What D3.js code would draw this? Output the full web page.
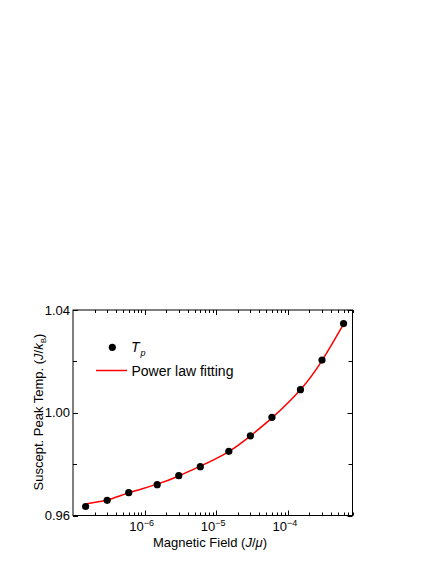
<!DOCTYPE html>
<html>
<head>
<meta charset="utf-8">
<script src="https://cdn.jsdelivr.net/npm/d3@7"></script>
<style>
html,body{margin:0;padding:0;background:#fff;}
svg{display:block;font-family:"Liberation Sans",Arial,sans-serif;}
</style>
</head>
<body>
<svg id="chart" width="436" height="564"></svg>
<script>
// Data
const fieldValues = [1.5e-7, 3e-7, 6e-7, 1.5e-6, 3e-6, 6e-6, 1.5e-5, 3e-5, 6e-5, 1.5e-4, 3e-4, 6e-4];
const peakTemps   = [0.9635, 0.9659, 0.9689, 0.9720, 0.9755, 0.9790, 0.9850, 0.9910, 0.9982, 1.0090, 1.0205, 1.0347];
const fitTemps    = [0.9645, 0.9660, 0.9688, 0.9722, 0.9754, 0.9792, 0.9849, 0.9910, 0.9980, 1.0090, 1.0203, 1.0345];
const xMajorTicks = [1e-6, 1e-5, 1e-4];
const xTickExponents = ["-6", "-5", "-4"];
const yMajorTicks = [0.96, 1.00, 1.04];
const yTickLabels = ["0.96", "1.00", "1.04"];
const yMinorTicks = [0.98, 1.02];
const xDomain = [1e-7, 8e-4];
const yDomain = [0.96, 1.04];

const svg = d3.select("#chart");
const L = 73, R = 352.5, T = 310, B = 515.5;

const x = d3.scaleLog().domain(xDomain).range([L, R]);
const y = d3.scaleLinear().domain(yDomain).range([B, T]);

// minor x ticks
const xMinor = [];
for (let e = -7; e <= -4; e++) {
  for (let m = 2; m <= 9; m++) {
    const v = m * Math.pow(10, e);
    if (v >= xDomain[0] && v <= xDomain[1] * 1.0001) xMinor.push(v);
  }
}

const axisG = svg.append("g").attr("stroke", "#000").attr("stroke-width", 1);
// frame
axisG.append("rect").attr("x", L).attr("y", T).attr("width", R - L).attr("height", B - T).attr("fill", "none");

const majorLen = 5, minorLen = 3;
// bottom and top ticks
xMajorTicks.forEach(v => {
  const px = Math.round(x(v)) + 0.5;
  axisG.append("line").attr("x1", px).attr("x2", px).attr("y1", B).attr("y2", B - majorLen);
  axisG.append("line").attr("x1", px).attr("x2", px).attr("y1", T).attr("y2", T + majorLen);
});
xMinor.forEach(v => {
  const px = Math.round(x(v)) + 0.5;
  axisG.append("line").attr("x1", px).attr("x2", px).attr("y1", B).attr("y2", B - minorLen);
  axisG.append("line").attr("x1", px).attr("x2", px).attr("y1", T).attr("y2", T + minorLen);
});
// left and right ticks
yMajorTicks.forEach(v => {
  const py = Math.round(y(v)) + 0.5;
  axisG.append("line").attr("x1", L).attr("x2", L + majorLen).attr("y1", py).attr("y2", py);
  axisG.append("line").attr("x1", R).attr("x2", R - majorLen).attr("y1", py).attr("y2", py);
});
yMinorTicks.forEach(v => {
  const py = Math.round(y(v)) + 0.5;
  axisG.append("line").attr("x1", L).attr("x2", L + minorLen + 1).attr("y1", py).attr("y2", py);
  axisG.append("line").attr("x1", R).attr("x2", R - minorLen - 1).attr("y1", py).attr("y2", py);
});

// x tick labels
xMajorTicks.forEach((v, i) => {
  const t = svg.append("text").attr("x", x(v) - 3).attr("y", 531)
    .attr("text-anchor", "middle").attr("font-size", 13).attr("fill", "#000");
  t.append("tspan").text("10");
  t.append("tspan").attr("dy", -5).attr("font-size", 9).text("\u2212" + xTickExponents[i].slice(1));
});
// y tick labels
yMajorTicks.forEach((v, i) => {
  svg.append("text").attr("x", 70).attr("y", y(v) + 4.5)
    .attr("text-anchor", "end").attr("font-size", 13).attr("fill", "#000")
    .text(yTickLabels[i]);
});

// x axis label
const xl = svg.append("text").attr("x", 210).attr("y", 546.5).attr("text-anchor", "middle")
  .attr("font-size", 13).attr("fill", "#000");
xl.append("tspan").text("Magnetic Field (");
xl.append("tspan").attr("font-style", "italic").text("J");
xl.append("tspan").text("/");
xl.append("tspan").attr("font-style", "italic").text("\u03BC");
xl.append("tspan").text(")");

// y axis label
const yl = svg.append("text").attr("transform", "translate(42.5,412) rotate(-90)")
  .attr("text-anchor", "middle").attr("font-size", 13).attr("fill", "#000");
yl.append("tspan").text("Suscept. Peak Temp. (");
yl.append("tspan").attr("font-style", "italic").text("J");
yl.append("tspan").text("/");
yl.append("tspan").attr("font-style", "italic").text("k");
yl.append("tspan").attr("font-size", 8).attr("dy", 3).text("B");
yl.append("tspan").attr("dy", -3).text(")");

// fit line
const fitData = fieldValues.map((f, i) => [f, fitTemps[i]]);
svg.append("path").datum(fitData)
  .attr("d", d3.line().x(d => x(d[0])).y(d => y(d[1])).curve(d3.curveNatural))
  .attr("fill", "none").attr("stroke", "#ff0000").attr("stroke-width", 1.5);

// points
svg.append("g").selectAll("circle").data(fieldValues).join("circle")
  .attr("cx", d => x(d)).attr("cy", (d, i) => y(peakTemps[i])).attr("r", 3.6).attr("fill", "#000");

// legend
svg.append("circle").attr("cx", 112.3).attr("cy", 347.3).attr("r", 3.6).attr("fill", "#000");
const lt = svg.append("text").attr("x", 131).attr("y", 352).attr("font-size", 14).attr("fill", "#000");
lt.append("tspan").attr("font-style", "italic").text("T");
lt.append("tspan").attr("font-style", "italic").attr("font-size", 9).attr("dx", 1).attr("dy", 4).text("p");
svg.append("line").attr("x1", 96).attr("x2", 127).attr("y1", 370.5).attr("y2", 370.5)
  .attr("stroke", "#ff0000").attr("stroke-width", 1.5);
svg.append("text").attr("x", 131.5).attr("y", 375.5).attr("font-size", 14).attr("fill", "#000")
  .text("Power law fitting");
</script>
</body>
</html>
